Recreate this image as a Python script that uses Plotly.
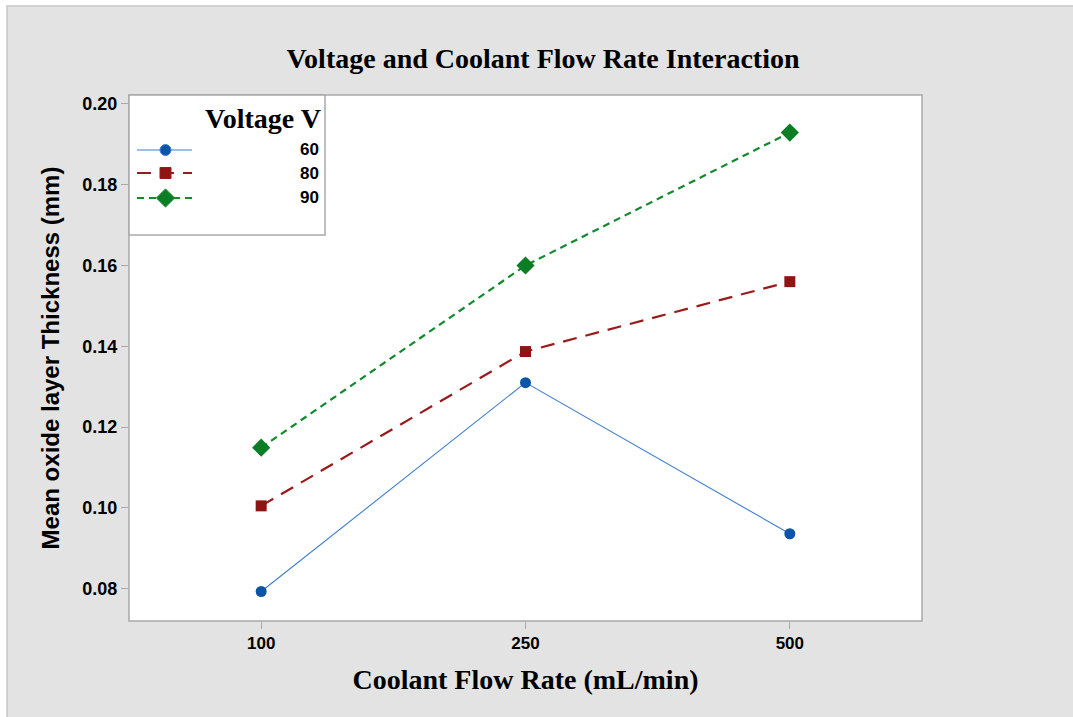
import plotly.graph_objects as go

# Coolant flow rate levels (mL/min) and mean oxide layer thickness (mm) per voltage
flow_rate = ["100", "250", "500"]
voltages = ["60", "80", "90"]
thick_60 = [0.0793, 0.1310, 0.0936]
thick_80 = [0.1005, 0.1387, 0.1560]
thick_90 = [0.1149, 0.1600, 0.1929]
y_ticks = [0.08, 0.10, 0.12, 0.14, 0.16, 0.18, 0.20]

W, H = 1073, 717
L, R, T, B = 129, 151, 95, 96
PW, PH = W - L - R, H - T - B


def px(x):
    return (x - L) / PW


def py(y):
    return (H - B - y) / PH


series = [
    dict(name="60", y=thick_60, line=dict(color="#3f7fcf", width=1.1, dash="solid"),
         marker=dict(symbol="circle", size=11, color="#0b55a8", opacity=1)),
    dict(name="80", y=thick_80, line=dict(color="#9a1b1b", width=2.2, dash="14px,9px"),
         marker=dict(symbol="square", size=11, color="#8f1515", opacity=1)),
    dict(name="90", y=thick_90, line=dict(color="#138a2b", width=2.2, dash="7px,5px"),
         marker=dict(symbol="diamond", size=14, color="#0a7d25", opacity=1)),
]

fig = go.Figure()
for s in series:
    fig.add_trace(go.Scatter(
        x=flow_rate, y=s["y"], mode="lines+markers", name=s["name"],
        line=s["line"], marker=s["marker"], showlegend=False, hoverinfo="x+y",
    ))

# Legend key drawn on an overlay axis measured in pixels
leg_x0, leg_x1, leg_y0, leg_y1 = 129, 325, 95, 235
row_y = [150, 173, 198]
for s, ry in zip(series, row_y):
    mk = dict(s["marker"])
    mk["size"] = [0, mk["size"], 0]
    fig.add_trace(go.Scatter(
        x=[137, 165.5, 192], y=[ry, ry, ry], mode="lines+markers",
        line=s["line"], marker=mk, xaxis="x2", yaxis="y2",
        showlegend=False, hoverinfo="skip",
    ))

shapes = [
    # grey page panel
    dict(type="rect", xref="paper", yref="paper", layer="below",
         x0=px(7), x1=px(1100), y0=py(740), y1=py(6),
         fillcolor="#e3e3e3", line=dict(color="#c6c6c6", width=1.5)),
    # white plotting area
    dict(type="rect", xref="paper", yref="paper", layer="below",
         x0=0, x1=1, y0=0, y1=1, fillcolor="white",
         line=dict(color="#a9a9a9", width=1.5)),
    # legend frame
    dict(type="rect", xref="paper", yref="paper", layer="below",
         x0=px(leg_x0), x1=px(leg_x1), y0=py(leg_y1), y1=py(leg_y0),
         fillcolor="white", line=dict(color="#a9a9a9", width=1.5)),
]

annotations = [
    dict(text="<b>Voltage V</b>", xref="paper", yref="paper",
         x=px(323), y=py(118), xanchor="right", yanchor="middle", showarrow=False,
         font=dict(family="Liberation Serif", size=28, color="black")),
]
for v, ry in zip(voltages, row_y):
    annotations.append(dict(
        text=f"<b>{v}</b>", xref="paper", yref="paper", x=px(321), y=py(ry),
        xanchor="right", yanchor="middle", showarrow=False,
        font=dict(family="Liberation Sans", size=17, color="black")))

fig.update_layout(
    width=W, height=H,
    margin=dict(l=L, r=R, t=T, b=B),
    paper_bgcolor="white", plot_bgcolor="rgba(0,0,0,0)",
    title=dict(text="<b>Voltage and Coolant Flow Rate Interaction</b>",
               xref="container", x=543 / W, xanchor="center",
               yref="container", y=1 - 58 / H, yanchor="middle",
               font=dict(family="Liberation Serif", size=28, color="black")),
    xaxis=dict(
        type="category", range=[-0.5, 2.5], showgrid=False, zeroline=False,
        showline=False, ticks="outside", ticklen=7, tickcolor="#a9a9a9",
        tickvals=flow_rate, ticktext=[f"<b>{f}</b>" for f in flow_rate],
        tickfont=dict(family="Liberation Sans", size=17, color="black"),
        title=dict(text="<b>Coolant Flow Rate (mL/min)</b>", standoff=16,
                   font=dict(family="Liberation Serif", size=28, color="black")),
    ),
    yaxis=dict(
        range=[0.0720, 0.2022], tickvals=y_ticks,
        ticktext=[f"<b>{v:.2f}</b>" for v in y_ticks],
        showgrid=False, zeroline=False, showline=False,
        ticks="outside", ticklen=7, tickcolor="#a9a9a9",
        tickfont=dict(family="Liberation Sans", size=18, color="black"),
        title=dict(text="<b>Mean oxide layer Thickness (mm)</b>", standoff=15,
                   font=dict(family="Liberation Sans", size=24, color="black")),
    ),
    xaxis2=dict(domain=[px(leg_x0), px(leg_x1)], range=[leg_x0, leg_x1],
                visible=False, anchor="y2", fixedrange=True),
    yaxis2=dict(domain=[py(leg_y1), py(leg_y0)], range=[leg_y1, leg_y0],
                visible=False, anchor="x2", fixedrange=True),
    shapes=shapes,
    annotations=annotations,
)

fig.write_html("out.html")
